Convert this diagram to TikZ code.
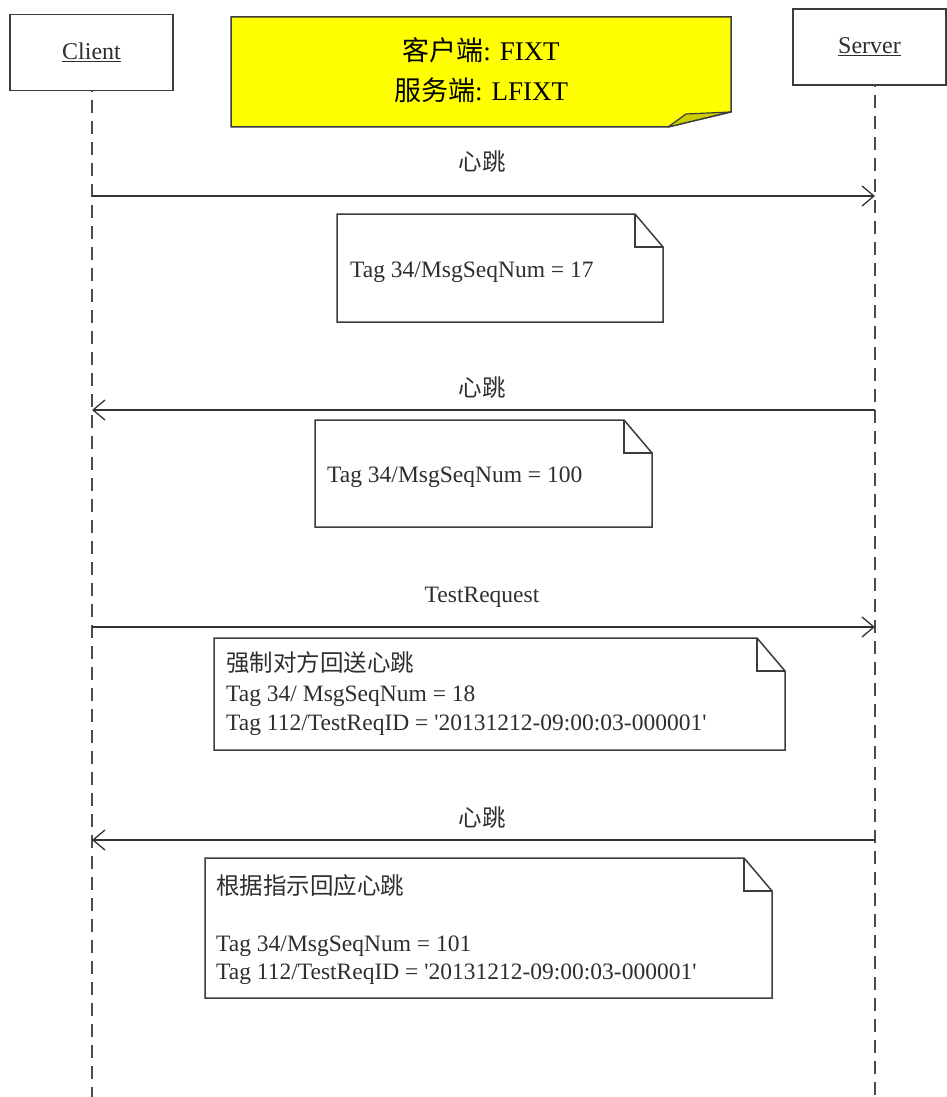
\documentclass[tikz,border=0pt]{standalone}
\usepackage{fontspec}
\setmainfont{Liberation Serif}
\newfontfamily\lserif{Liberation Serif}
\newfontfamily\cjk{Noto Sans CJK SC}
\usetikzlibrary{arrows.meta}
\definecolor{edge}{HTML}{3C3C3C}
\definecolor{txt}{HTML}{2E2E2E}
\definecolor{yel}{HTML}{FFFF00}
\definecolor{yelfold}{HTML}{CCCC00}
\tikzset{
  actor/.style={draw=edge, line width=1.5pt, fill=white, minimum width=163pt, minimum height=76pt, inner sep=0pt,
                font=\lserif\fontsize{24}{28}\selectfont, text=txt},
  life/.style={draw=black!70, line width=2pt, dash pattern=on 13pt off 8pt, dash phase=-10pt},
  msg/.style={draw=black!80, line width=1.3pt, -{Straight Barb[length=12pt,width=20pt,line width=1.3pt]}},
  msglabel/.style={anchor=base, inner sep=0pt, font=\lserif\fontsize{23.5}{28}\selectfont, text=txt},
  noteline/.style={draw=edge, line width=1.5pt, line join=miter},
  notetext/.style={anchor=base west, inner sep=0pt, font=\lserif\fontsize{23.5}{28}\selectfont, text=txt},
  banner/.style={anchor=base, inner sep=0pt, font=\lserif\fontsize{27}{32}\selectfont, text=black},
}
\begin{document}
\begin{tikzpicture}[x=1pt,y=-1pt]
\useasboundingbox (0,0) rectangle (946,1097);

% actors
\node[actor] (client) at (91.5,52.5) {\underline{Client}};
\node[actor, minimum width=153pt] (server) at (869.5,47) {\underline{Server}};

% yellow banner
\path[fill=yel, draw=edge, line width=1.5pt] (231,17) -- (731,17) -- (731,112) -- (668,127) -- (231,127) -- cycle;
\path[fill=yelfold, draw=edge, line width=1.2pt, line join=round] (668,127) -- (686,114) -- (730,112) -- cycle;
\node[banner] (b1) at (481,61) {{\cjk 客户端}: FIXT};
\node[banner] (b2) at (481,101) {{\cjk 服务端}: LFIXT};

% lifelines
\coordinate (cend) at (92,1097);
\coordinate (send) at (875,1097);
\draw[life] (92,90) -- (cend);
\draw[life] (875,85) -- (send);

% messages
\coordinate (c1) at (92,196);  \coordinate (s1) at (875,196);
\coordinate (c2) at (92,410);  \coordinate (s2) at (875,410);
\coordinate (c3) at (92,627);  \coordinate (s3) at (875,627);
\coordinate (c4) at (92,840);  \coordinate (s4) at (875,840);
\draw[msg] (c1) -- (s1);
\draw[msg] (s2) -- (c2);
\draw[msg] (c3) -- (s3);
\draw[msg] (s4) -- (c4);
\node[msglabel] (l1) at (482,170) {\cjk 心跳};
\node[msglabel] (l2) at (482,396) {\cjk 心跳};
\node[msglabel] (l3) at (482,602) {TestRequest};
\node[msglabel] (l4) at (482,826) {\cjk 心跳};

% note 1
\draw[noteline] (337,214) -- (635,214) -- (663,247) -- (663,322) -- (337,322) -- cycle;
\draw[noteline] (635,214) -- (635,247) -- (663,247);
\node[notetext] (n1) at (350,277) {Tag 34/MsgSeqNum = 17};

% note 2
\draw[noteline] (315,420) -- (624,420) -- (652,453) -- (652,527) -- (315,527) -- cycle;
\draw[noteline] (624,420) -- (624,453) -- (652,453);
\node[notetext] (n2) at (327,482) {Tag 34/MsgSeqNum = 100};

% note 3
\draw[noteline] (214,638) -- (757,638) -- (785,671) -- (785,750) -- (214,750) -- cycle;
\draw[noteline] (757,638) -- (757,671) -- (785,671);
\node[notetext] (n3a) at (226,671) {\cjk 强制对方回送心跳};
\node[notetext] (n3b) at (226,701) {Tag 34/ MsgSeqNum = 18};
\node[notetext] (n3c) at (226,730) {Tag 112/TestReqID = '20131212-09:00:03-000001'};

% note 4
\draw[noteline] (205,858) -- (744,858) -- (772,891) -- (772,998) -- (205,998) -- cycle;
\draw[noteline] (744,858) -- (744,891) -- (772,891);
\node[notetext] (n4a) at (216,894) {\cjk 根据指示回应心跳};
\node[notetext] (n4b) at (216,951) {Tag 34/MsgSeqNum = 101};
\node[notetext] (n4c) at (216,979) {Tag 112/TestReqID = '20131212-09:00:03-000001'};
\end{tikzpicture}
\end{document}
